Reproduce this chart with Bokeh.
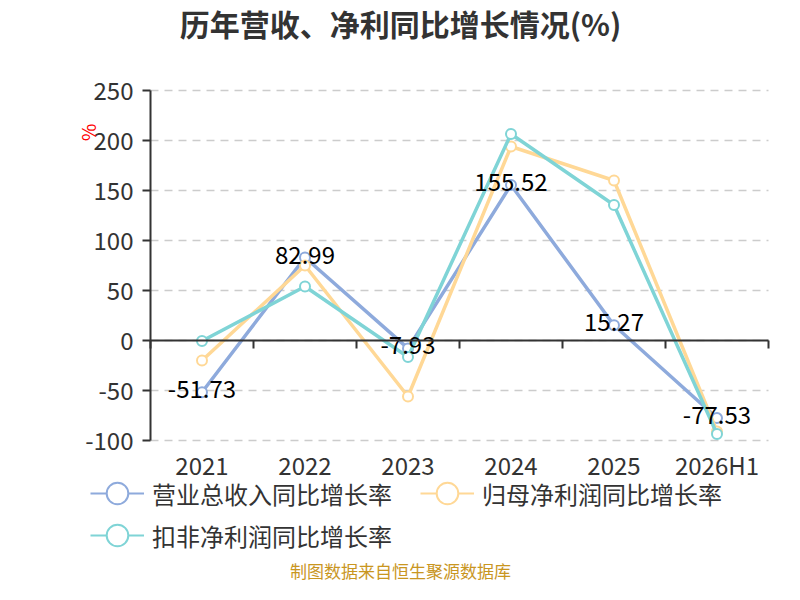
from bokeh.plotting import figure
from bokeh.models import (Range1d, FixedTicker, LinearAxis, Label, Legend, LegendItem,
                          ColumnDataSource)
from bokeh.core.properties import value
from bokeh.embed import file_html
from bokeh.resources import INLINE
import math

categories = ["2021", "2022", "2023", "2024", "2025", "2026H1"]
revenue_growth = [-51.73, 82.99, -7.93, 155.52, 15.27, -77.53]
net_profit_growth = [-20.0, 75.0, -56.0, 194.0, 160.0, -91.0]
deducted_profit_growth = [-0.5, 54.0, -16.5, 206.5, 135.5, -93.5]
series_names = ["营业总收入同比增长率", "归母净利润同比增长率", "扣非净利润同比增长率"]
y_ticks = [-100, -50, 0, 50, 100, 150, 200, 250]
title_text = "历年营收、净利同比增长情况(%)"
footer_text = "制图数据来自恒生聚源数据库"
unit_text = "%"

FONT = "Noto Sans CJK SC"
colors = ["#8eaadc", "#ffd896", "#7fd4d6"]
W, H = 784, 584

# plot area in canvas pixels
PL, PR, PT, PB = 150, 768, 90, 440
n = len(categories)
x_lo, x_hi = -0.5, n - 0.5
y_lo, y_hi = y_ticks[0], y_ticks[-1]
xpx = (PR - PL) / (x_hi - x_lo)
ypx = (PB - PT) / (y_hi - y_lo)

p = figure(width=W, height=H, output_backend="svg", toolbar_location=None,
           x_range=Range1d(x_lo - PL / xpx, x_hi + (W - PR) / xpx),
           y_range=Range1d(y_lo - (H - PB) / ypx, y_hi + PT / ypx),
           min_border=0, x_axis_type=None, y_axis_type=None,
           outline_line_color=None)
p.grid.visible = False

xs = list(range(n))

# dashed horizontal grid lines across the plot area
p.segment(x0=[x_lo] * len(y_ticks), x1=[x_hi] * len(y_ticks), y0=y_ticks, y1=y_ticks,
          line_color="#cccccc", line_width=1.5, line_dash="8 6")

# y axis
yax = LinearAxis(fixed_location=x_lo, bounds=(y_lo, y_hi), ticker=FixedTicker(ticks=y_ticks),
                 major_label_overrides={v: str(v) for v in y_ticks})
yax.axis_line_color = "#333333"
yax.axis_line_width = 2
yax.major_tick_line_color = "#333333"
yax.major_tick_line_width = 2
yax.major_tick_out = 8
yax.major_tick_in = 0
yax.minor_tick_line_color = None
yax.major_label_standoff = 9
yax.major_label_text_font = FONT
yax.major_label_text_font_size = "24px"
yax.major_label_text_color = "#333333"
p.add_layout(yax, "left")

# category labels under the plot area
xlab = LinearAxis(fixed_location=y_lo, ticker=FixedTicker(ticks=xs),
                  major_label_overrides={i: c for i, c in enumerate(categories)})
xlab.axis_line_color = None
xlab.major_tick_line_color = None
xlab.minor_tick_line_color = None
xlab.major_tick_out = 0
xlab.major_tick_in = 0
xlab.major_label_standoff = 6
xlab.major_label_text_font = FONT
xlab.major_label_text_font_size = "24px"
xlab.major_label_text_color = "#333333"
p.add_layout(xlab, "below")

# x axis line through zero with boundary ticks
bounds = [i - 0.5 for i in range(n + 1)]
zax = LinearAxis(fixed_location=0, bounds=(x_lo, x_hi), ticker=FixedTicker(ticks=bounds),
                 major_label_overrides={b: "" for b in bounds})
zax.axis_line_color = "#333333"
zax.axis_line_width = 2
zax.major_tick_line_color = "#333333"
zax.major_tick_line_width = 2
zax.major_tick_out = 8
zax.major_tick_in = 0
zax.minor_tick_line_color = None
zax.major_label_standoff = 0
p.add_layout(zax, "below")

# series
for vals, col in zip([revenue_growth, net_profit_growth, deducted_profit_growth], colors):
    src = ColumnDataSource(dict(x=xs, y=vals))
    p.line("x", "y", source=src, line_color=col, line_width=3.5)
    p.scatter("x", "y", source=src, size=10, fill_color="white",
              line_color=col, line_width=2)

lab_src = ColumnDataSource(dict(x=xs, y=revenue_growth,
                                t=[f"{v:.2f}" for v in revenue_growth]))
p.text("x", "y", text="t", source=lab_src, text_align="center", text_baseline="middle",
       y_offset=-3, text_font=value(FONT), text_font_size="24px", text_color="#000000")

# legends (legend-only renderers hold no visible points)
leg_pos = [(90, H - 493 - 27), (420, H - 493 - 27), (90, H - 535 - 27)]
for col, name, loc in zip(colors, series_names, leg_pos):
    dsrc = ColumnDataSource(dict(x=[float("nan")], y=[float("nan")]))
    lr = p.line("x", "y", source=dsrc, line_color=col, line_width=2)
    sr = p.scatter("x", "y", source=dsrc, fill_color="white", line_color=col,
                   line_width=2)
    lg = Legend(items=[LegendItem(label=name, renderers=[lr, sr])], location=loc,
                glyph_width=54, glyph_height=54, label_standoff=8,
                padding=0, margin=0, spacing=0,
                background_fill_alpha=0, border_line_alpha=0,
                label_text_font=FONT, label_text_font_size="24px",
                label_text_color="#333333")
    p.add_layout(lg, "center")

# texts
p.add_layout(Label(x=400, y=H - 22, x_units="screen", y_units="screen", text=title_text,
                   text_align="center", text_baseline="middle", text_font=FONT,
                   text_font_size="30px", text_font_style="bold", text_color="#333333"))
p.add_layout(Label(x=87, y=H - 132, x_units="screen", y_units="screen", text=unit_text,
                   text_align="center", text_baseline="middle", angle=math.pi / 2,
                   text_font=FONT, text_font_size="19px", text_color="#ff0000"))
p.add_layout(Label(x=400, y=14, x_units="screen", y_units="screen", text=footer_text,
                   text_align="center", text_baseline="middle", text_font=FONT,
                   text_font_size="17px", text_color="#c9961f"))

open("out.html", "w").write(file_html(p, INLINE))
